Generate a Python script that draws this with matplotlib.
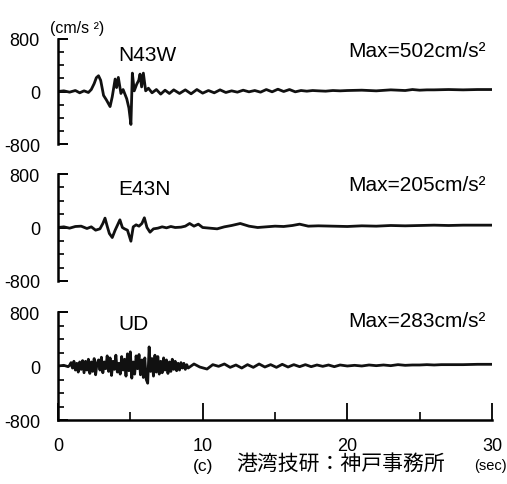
import numpy as np
import matplotlib
matplotlib.use("Agg")
import matplotlib.pyplot as plt
from matplotlib.ticker import MultipleLocator

plt.rcParams['font.family'] = ['Liberation Sans', 'DejaVu Sans']

### Data (cm/s^2 vs sec)

# N43W
t_n43w = [0, 0.4, 0.8, 1.2, 1.5, 1.8, 2.1, 2.3, 2.5, 2.65, 2.8, 2.95, 3.15, 3.35, 3.6,
          3.75, 3.95, 4.05, 4.17, 4.35, 4.5, 4.75, 4.9, 5.04, 5.14, 5.27, 5.44, 5.58, 5.67, 5.78,
          5.9, 6.06, 6.25, 6.5, 6.8, 7.1, 7.4, 7.7, 8.0,
          8.4, 8.8, 9.2, 9.6, 10.0, 10.4, 10.8, 11.2, 11.6, 12.0, 12.4, 12.8, 13.2, 13.6, 14.0,
          14.4, 14.8, 15.2, 15.6, 16.0, 16.4, 16.8, 17.2, 17.6, 18.0, 18.5, 19.0, 19.5, 20.0, 21,
          22, 23, 24, 24.5, 25, 25.5, 26, 27, 28, 29, 30]
a_n43w = [0, 10, -10, 15, -20, 10, -15, 30, 120, 210, 240, 170, -60, -130, -230,
          -80, 190, 60, 215, -30, 30, -110, -250, -502, 280, 10, 110, 170, 265, 70,
          280, 10, 50, -20, 30, -40, 20, -30, 25,
          -30, 25, -35, 30, -25, 15, -20, 25, -15, 10, -10, 20, -5, 15, -10,
          30, -5, 35, 0, 30, -5, 15, 5, 15, 10, 5, 15, 10, 15, 20,
          10, 25, 15, 30, 20, 25, 25, 30, 25, 30, 30]

# E43N
t_e43n = [0, 0.4, 0.8, 1.2, 1.6, 2.0, 2.3, 2.6, 2.9, 3.1, 3.25, 3.4, 3.55, 3.75, 3.95,
          4.1, 4.28, 4.45, 4.6, 4.8, 5.04, 5.2, 5.4, 5.6, 5.8, 5.97, 6.15, 6.36, 6.6, 6.9,
          7.2, 7.5, 7.8, 8.1, 8.5, 8.8, 9.1, 9.4, 9.7, 10.0, 10.5, 11.0, 11.5, 12.0, 12.6,
          13.2, 13.8, 14.4, 15.0, 15.6, 16.2, 16.7, 17.3, 18.0, 19, 20, 21, 22, 23, 24,
          25, 26, 27, 28, 29, 30]
a_e43n = [0, 10, -10, 15, 20, -15, 10, -40, -20, 60, 140, 20, -90, -150, -40,
          30, 115, 0, -20, -40, -205, 10, 40, 20, 60, 145, 0, -70, -20, -10,
          10, -5, 15, 0, 5, 20, 60, 20, 50, 0, -10, -20, 10, 30, 60,
          20, 0, 10, 20, 15, 30, 50, 20, 25, 20, 15, 25, 20, 30, 25,
          30, 35, 30, 35, 35, 35]

# UD
t_ud = [0, 0.4, 0.7,
        0.8, 0.9, 1.0, 1.1, 1.2, 1.3, 1.4, 1.5,
        1.6, 1.7, 1.8, 1.9, 2.0, 2.1, 2.2, 2.3, 2.4, 2.5,
        2.6, 2.7, 2.8, 2.9, 3.0, 3.1, 3.2, 3.3, 3.4, 3.5,
        3.6, 3.7, 3.8, 3.9, 4.0, 4.1, 4.2, 4.3, 4.4, 4.5,
        4.6, 4.7, 4.8, 4.9, 5.0, 5.1, 5.2, 5.3, 5.4, 5.5,
        5.6, 5.7, 5.8, 5.9, 6.0, 6.1, 6.2, 6.3, 6.4, 6.5,
        6.6, 6.7, 6.8, 6.9, 7.0, 7.1, 7.2, 7.3, 7.4, 7.5,
        7.6, 7.7, 7.8, 7.9, 8.0, 8.1, 8.2, 8.3, 8.4, 8.5,
        8.6, 8.7, 8.8, 8.9, 9.0,
        9.4, 9.8, 10.3, 10.7, 11.1, 11.5, 11.9, 12.3, 12.7, 13.1,
        13.5, 13.9, 14.3, 14.7, 15.1, 15.5, 15.9, 16.3, 16.7, 17.1,
        17.5, 17.9, 18.3, 18.7, 19.1, 19.5, 20.0, 20.5, 21.0, 21.5,
        22.0, 22.5, 23.0, 23.5, 24.0, 24.5, 25.0, 25.5, 26.0, 26.5,
        27.0, 27.5, 28.0, 29.0, 30.0]
a_ud = [0, 10, -10,
        10, 50, -30, 70, -60, 40, -90, 60,
        -50, 80, -100, 70, -60, 100, -110, 60, -80, 110,
        -130, 40, 90, -60, 130, -100, 60, -40, 150, -80,
        120, -140, 70, -50, 160, -90, 40, -120, 140, -60,
        100, -150, 180, -70, 210, -180, 60, -120, 150, -40,
        170, -130, 90, -170, 120, -200, -255, 283, -80, 110,
        -150, 160, -90, 140, -120, 70, -100, 120, -60, 90,
        -110, 60, -80, 100, -50, 70, -70, 40, -60, 50,
        -30, 40, -50, 20, -30,
        30, -15, -45, 20, -5, 30, -20, 15, -30, 20,
        -20, 30, -15, 20, -20, 25, -15, 20, -10, 20,
        -10, 15, -5, 15, -10, 15, 0, 10, 0, 15,
        5, 15, 5, 20, 10, 15, 15, 20, 15, 20,
        20, 20, 20, 25, 25]

components = ['N43W', 'E43N', 'UD']
max_values = [502, 205, 283]
x_ticks = [0, 10, 20, 30]

### Plot

fig = plt.figure(figsize=(5.07, 4.85), dpi=100)
W, H = 507., 485.
# (top, bottom) of each panel in pixels
panels = [(40, 145), (175, 282), (313, 421)]
traces = [(t_n43w, a_n43w), (t_e43n, a_e43n), (t_ud, a_ud)]
name_y = [0.857, 0.86, 0.889]
max_y = [0.895, 0.906, 0.917]
narrow = ['Liberation Sans Narrow', 'Liberation Sans']

for i, (top, bot) in enumerate(panels):
    ax = fig.add_axes([58/W, 1 - bot/H, 434/W, (bot - top)/H])
    t, a = traces[i]
    ax.plot(t, a, color='#111111', lw=2.0, solid_joinstyle='round')
    ax.set_xlim(0, 30)
    ax.set_ylim(-800, 800)
    ax.set_yticks([-800, 0, 800])
    ax.set_yticklabels(['-800', '0', '800'], family=narrow, fontsize=13)
    ax.yaxis.set_minor_locator(MultipleLocator(200))
    ax.tick_params(axis='y', which='major', direction='in', length=7, width=1.4, pad=13)
    ax.tick_params(axis='y', which='minor', direction='in', length=4, width=1.2)
    for s in ['top', 'right']:
        ax.spines[s].set_visible(False)
    ax.spines['left'].set_linewidth(1.8)
    if i < 2:
        ax.spines['bottom'].set_visible(False)
        ax.set_xticks([])
    else:
        ax.spines['bottom'].set_linewidth(1.8)
        ax.set_xticks(x_ticks)
        ax.set_xticklabels([str(x) for x in x_ticks], family=narrow, fontsize=13)
        ax.xaxis.set_minor_locator(MultipleLocator(5))
        ax.tick_params(axis='x', which='major', direction='in', length=12, width=1.3, pad=12)
        ax.tick_params(axis='x', which='minor', direction='in', length=6, width=1.2)
    ax.patch.set_alpha(0)
    ax.text(0.138, name_y[i], components[i], transform=ax.transAxes, fontsize=15,
            ha='left', va='center')
    ax.text(0.985, max_y[i], 'Max=%dcm/s²' % max_values[i], transform=ax.transAxes,
            fontsize=15, ha='right', va='center')

fig.text(50/W, 1 - 28/H, '(cm/s ²)', fontsize=11.5, ha='left', va='center', family=narrow)
fig.text(490/W, 1 - 466/H, '(sec)', fontsize=10.5, ha='center', va='center', family=narrow)
fig.text(193/W, 1 - 467/H, '(c)', fontsize=12.5, ha='left', va='center')
fig.text(236/W, 1 - 464/H, '港湾技研：神戸事務所', fontsize=15, ha='left', va='center',
         family=['Noto Sans CJK JP', 'DejaVu Sans'])

fig.savefig('out.png', dpi=100)
